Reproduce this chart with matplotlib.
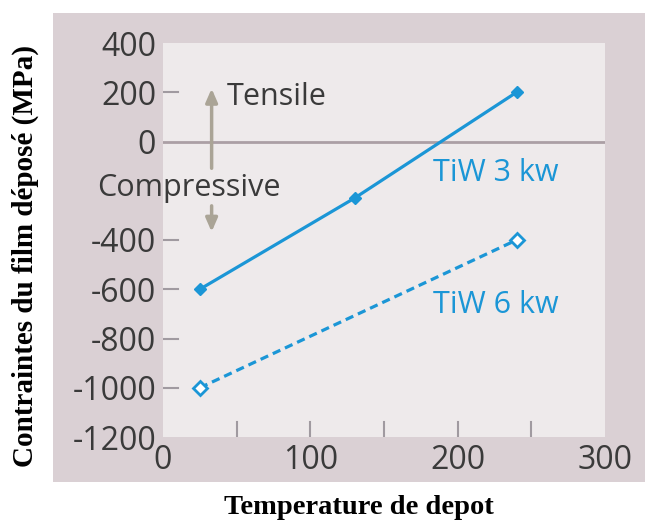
import matplotlib
matplotlib.use("Agg")
import matplotlib.pyplot as plt
from matplotlib.patches import Rectangle

# temperature (x) and film stress (MPa) for the two sputter powers
temp_3kw = [25, 130, 240]
stress_3kw = [-600, -230, 200]
temp_6kw = [25, 240]
stress_6kw = [-1000, -400]

ytick_vals = [400, 200, 0, -200, -400, -600, -800, -1000, -1200]
ytick_labels = ["400", "200", "0", "", "-400", "-600", "-800", "-1000", "-1200"]
ymark_vals = [200, -400, -600, -800, -1000]
xtick_vals = [0, 100, 200, 300]
xmark_vals = [50, 100, 150, 200, 250]

blue = "#1b96d6"
frame_col = "#dad0d4"
plot_bg = "#eeeaeb"
txt_col = "#3a3a3a"
sans = ["Open Sans", "DejaVu Sans"]

fig = plt.figure(figsize=(6.45, 5.22), dpi=100)
fig.patches.append(Rectangle((53 / 645, 40 / 522), 592 / 645, 469 / 522,
                             transform=fig.transFigure, facecolor=frame_col,
                             edgecolor="none", zorder=-10))

ax = fig.add_axes([163 / 645, 85 / 522, 442 / 645, 394 / 522])
ax.set_facecolor(plot_bg)
ax.set_xlim(0, 300)
ax.set_ylim(-1200, 400)
for s in ax.spines.values():
    s.set_visible(False)

# zero stress line
ax.axhline(0, color="#ab9fa5", lw=2, zorder=1)

# short inner tick marks drawn by hand
for y in ymark_vals:
    ax.plot([0, 10], [y, y], color="#a09aa0", lw=1.5, zorder=1)
for x in xmark_vals:
    ax.plot([x, x], [-1200, -1140], color="#a09aa0", lw=1.5, zorder=1)

ax.plot(temp_3kw, stress_3kw, color=blue, lw=2.3, marker="D", ms=6.5,
        mfc=blue, mec=blue, zorder=3)
ax.plot(temp_6kw, stress_6kw, color=blue, lw=2.3, ls=(0, (2.6, 1.6)), marker="D",
        ms=7, mfc="white", mec=blue, mew=2, zorder=3)

ax.set_yticks(ytick_vals)
ax.set_yticklabels(ytick_labels, fontsize=23, color=txt_col, family=sans)
ax.set_xticks(xtick_vals)
ax.set_xticklabels([str(v) for v in xtick_vals], fontsize=23, color=txt_col,
                   family=sans)
ax.tick_params(length=0, pad=5)

# tensile / compressive arrows
arrow_kw = dict(arrowstyle="-|>,head_width=0.35,head_length=0.8",
                color="#aaa496", lw=2.5)
ax.annotate("", xy=(33, 226), xytext=(33, -120), arrowprops=arrow_kw)
ax.annotate("", xy=(33, -378), xytext=(33, -250), arrowprops=arrow_kw)
ax.text(43, 180, "Tensile", fontsize=22, color=txt_col, family=sans,
        va="center", ha="left")
ax.text(-45, -190, "Compressive", fontsize=22, color=txt_col, family=sans,
        va="center", ha="left", zorder=4)

ax.text(183, -128, "TiW 3 kw", fontsize=22, color=blue, family=sans,
        va="center", ha="left")
ax.text(183, -663, "TiW 6 kw", fontsize=22, color=blue, family=sans,
        va="center", ha="left")

fig.text(25 / 645, 0.51, "Contraintes du film déposé (MPa)", rotation=90,
         fontsize=21, fontweight="bold", family="Liberation Serif",
         ha="center", va="center", color="black")
fig.text(359 / 645, 1 - 508 / 522, "Temperature de depot", fontsize=20.5,
         fontweight="bold", family="Liberation Serif", ha="center",
         va="center", color="black")

fig.savefig("out.png", dpi=100)
